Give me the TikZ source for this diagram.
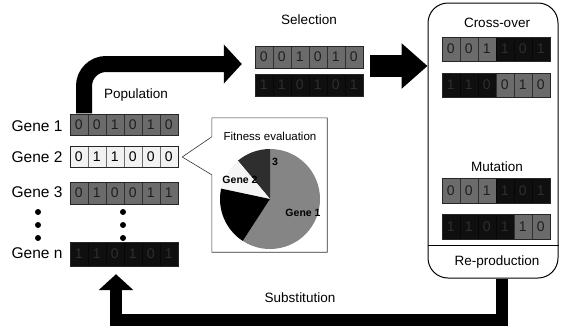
\documentclass[tikz,border=0pt]{standalone}
\usepackage{fontspec}
\setmainfont{Liberation Sans}
\usetikzlibrary{arrows.meta,calc,positioning}

% cell fills and digit inks
\colorlet{cgray}{black!58}
\colorlet{clight}{black!5}
\colorlet{cblack}{black!94}
\colorlet{tgray}{black!88}
\colorlet{tlight}{black}
\colorlet{tblack}{black!82}

\tikzset{
  lbl/.style={font=\fontsize{13.5}{15}\selectfont},
  genelbl/.style={font=\fontsize{15.5}{17}\selectfont, anchor=east},
  pielbl/.style={font=\bfseries\fontsize{10.5}{12}\selectfont},
  strip/.style={minimum width=108pt, inner sep=0pt},
  cell/.style={minimum width=18pt, inner sep=0pt, line width=0.5pt, font=\fontsize{14}{14}\selectfont},
  frame/.style={draw=black!85, line width=0.6pt},
  bigarrow/.style={line width=16pt, -{Triangle[length=18pt,width=38pt]}},
  fatarrow/.style={line width=22pt, -{Triangle[length=26pt,width=44pt]}},
  backarrow/.style={line width=12pt, line join=miter, -{Triangle[length=16pt,width=34pt]}},
}

% #1 name, #2 centre, #3 height, #4 cells as fill/ink/digit
\newcommand{\chromosome}[4]{%
  \node[strip, minimum height=#3] (#1) at #2 {};
  \foreach \f/\t/\d [count=\i] in {#4}
    \node[cell, minimum height=#3, fill=\f, draw=\f!45!black, text=\t] (#1-\i) at ($(#1.west)+(\i*18-9,0)$) {\d};
  \draw[frame] (#1.north west) rectangle (#1.south east);
}

\begin{document}
\begin{tikzpicture}[x=1pt,y=-1pt]
  \useasboundingbox (0,0) rectangle (569,327);

  % Population:
  \node[lbl] (poplbl) at (136,95) {Population};
  \chromosome{gene1}{(124,125)}{21pt}{cgray/tgray/0,cgray/tgray/0,cgray/tgray/1,cgray/tgray/0,cgray/tgray/1,cgray/tgray/0}
  \chromosome{gene2}{(124,157)}{21pt}{clight/tlight/0,clight/tlight/1,clight/tlight/1,clight/tlight/0,clight/tlight/0,clight/tlight/0}
  \chromosome{gene3}{(124,193)}{22pt}{cgray/tgray/0,cgray/tgray/1,cgray/tgray/0,cgray/tgray/0,cgray/tgray/1,cgray/tgray/1}
  \chromosome{genen}{(124,254)}{24pt}{cblack/tblack/1,cblack/tblack/1,cblack/tblack/0,cblack/tblack/1,cblack/tblack/0,cblack/tblack/1}
  \node[genelbl] (name1) at (66,126) {Gene 1};
  \node[genelbl] (name2) at (66,157) {Gene 2};
  \node[genelbl] (name3) at (66,192) {Gene 3};
  \node[genelbl] (namen) at (66,253) {Gene n};
  \foreach \yy in {212,225,238} {
    \fill (38,\yy) circle (3pt);
    \fill (123,\yy) circle (3pt);
  }

  % Selection:
  \node[lbl] (sellbl) at (309,20) {Selection};
  \chromosome{sel1}{(309,57)}{22pt}{cgray/tgray/0,cgray/tgray/0,cgray/tgray/1,cgray/tgray/0,cgray/tgray/1,cgray/tgray/0}
  \chromosome{sel2}{(309,85)}{22pt}{cblack/tblack/1,cblack/tblack/1,cblack/tblack/0,cblack/tblack/1,cblack/tblack/0,cblack/tblack/1}

  % Re-production box:
  \node[draw, line width=1pt, rounded corners=20pt, minimum width=130pt, minimum height=275pt, inner sep=0pt] (opbox) at (493,140.5) {};
  \draw[line width=0.7pt] (opbox.west |- 0,245) -- (opbox.east |- 0,245);
  \node[lbl] (colbl) at (497,23) {Cross-over};
  \chromosome{co1}{(496,49)}{24pt}{cgray/tgray/0,cgray/tgray/0,cgray/tgray/1,cblack/tblack/1,cblack/tblack/0,cblack/tblack/1}
  \chromosome{co2}{(496,85)}{24pt}{cblack/tblack/1,cblack/tblack/1,cblack/tblack/0,cgray/tgray/0,cgray/tgray/1,cgray/tgray/0}
  \node[lbl] (mulbl) at (497,167) {Mutation};
  \chromosome{mu1}{(496,191)}{25pt}{cgray/tgray/0,cgray/tgray/0,cgray/tgray/1,cblack/tblack/1,cblack/tblack/0,cblack/tblack/1}
  \chromosome{mu2}{(496,227)}{25pt}{cblack/tblack/1,cblack/tblack/1,cblack/tblack/0,cblack/tblack/1,cgray/tgray/1,cgray/tgray/0}
  \node[lbl] (replbl) at (497,262) {Re-production};

  % Fitness evaluation:
  \node[inner sep=0pt, minimum width=115pt, minimum height=134pt] (fitbox) at (269.5,185) {};
  \draw[line width=0.6pt, black!80] (fitbox.north west) -- (fitbox.north east) -- (fitbox.south east)
    -- (fitbox.south west) -- ($(fitbox.north west)+(0,57)$) -- ([xshift=4pt]gene2.east)
    -- ($(fitbox.north west)+(0,19)$) -- cycle;
  \node[font=\fontsize{11.5}{13}\selectfont] (fitlbl) at (270,136) {Fitness evaluation};
  \begin{scope}[shift={(270,199)}, y=1pt]
    \fill[black!48] (0,0) -- (-123:50) arc[start angle=-123, end angle=90, radius=50] -- cycle;
    \fill[black!82] (0,0) -- (90:50) arc[start angle=90, end angle=130, radius=50] -- cycle;
    \fill[black!4] (0,0) -- (130:50) arc[start angle=130, end angle=168, radius=50] -- cycle;
    \fill[black] (0,0) -- (168:50) arc[start angle=168, end angle=237, radius=50] -- cycle;
    \node[pielbl] (pie3) at (5,37) {3};
    \node[pielbl] (pie2) at (-30,19) {Gene 2};
    \node[pielbl] (pie1) at (33,-14) {Gene 1};
  \end{scope}

  % Arrows:
  \coordinate (selin) at ([xshift=-13pt,yshift=-7pt]sel1.west);
  \draw[bigarrow, rounded corners=22pt] ([xshift=-40pt,yshift=1pt]gene1.north) |- (selin);
  \coordinate (selout) at ([xshift=7pt,yshift=-9pt]sel1.east);
  \draw[fatarrow] (selout) -- (selout -| opbox.west);
  \draw[backarrow] ([xshift=9pt]opbox.south) -- ++(0,41) -| ([xshift=-8pt,yshift=-8pt]genen.south);
  \node[lbl] (sublbl) at (300,298) {Substitution};
\end{tikzpicture}
\end{document}
